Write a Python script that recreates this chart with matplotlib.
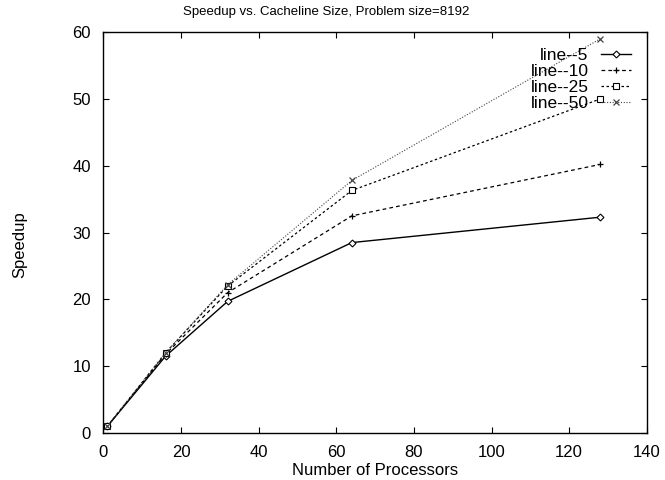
import matplotlib
matplotlib.use("Agg")
import matplotlib.pyplot as plt

plt.rcParams['font.family'] = ['Liberation Sans', 'DejaVu Sans']

procs = [1, 16, 32, 64, 128]
line5 = [1.0, 11.5, 19.7, 28.5, 32.3]
line10 = [1.0, 11.8, 21.0, 32.5, 40.2]
line25 = [1.0, 12.0, 22.0, 36.3, 50.0]
line50 = [1.0, 12.0, 22.2, 37.8, 59.0]

fig = plt.figure(figsize=(6.65, 4.8), dpi=100)
ax = fig.add_axes([0.1556, 0.098, 0.817, 0.835])

ax.plot(procs, line5, color='black', lw=1.0, ls='-', marker='D', ms=3.5,
        mfc='white', mew=0.8, label='line--5')
ax.plot(procs, line10, color='black', lw=0.9, ls=(0, (3, 2.5)), marker='+', ms=5,
        mew=0.9, label='line--10')
ax.plot(procs, line25, color='black', lw=0.9, ls=(0, (2, 2)), marker='s', ms=4.5,
        mfc='white', mew=0.8, label='line--25')
ax.plot(procs, line50, color='#444444', lw=0.8, ls=(0, (1, 1.5)), marker='x', ms=4.5,
        mew=0.9, label='line--50')

ax.set_xlim(0, 140)
ax.set_ylim(0, 60)
ax.set_xticks(range(0, 141, 20))
ax.set_yticks(range(0, 61, 10))
ax.tick_params(direction='in', length=4, top=True, right=True, labelsize=12, width=0.8)
ax.tick_params(axis='x', pad=9)
ax.tick_params(axis='y', pad=9)
for s in ax.spines.values():
    s.set_linewidth(1.0)

fig.text(0.49, 0.975, 'Speedup vs. Cacheline Size, Problem size=8192', fontsize=9.5,
         ha='center', va='center')
ax.set_xlabel('Number of Processors', fontsize=12, labelpad=1.5)
ax.set_ylabel('Speedup', fontsize=12)
ax.yaxis.set_label_coords(-0.14, 0.47)

leg = ax.legend(loc='upper right', frameon=False, markerfirst=False, fontsize=12.5,
                handlelength=1.75, labelspacing=0.05, borderaxespad=0.5, borderpad=0.4,
                handletextpad=0.7)
for t in leg.get_texts():
    t.set_ha('right')

fig.savefig('out.png', dpi=100)
